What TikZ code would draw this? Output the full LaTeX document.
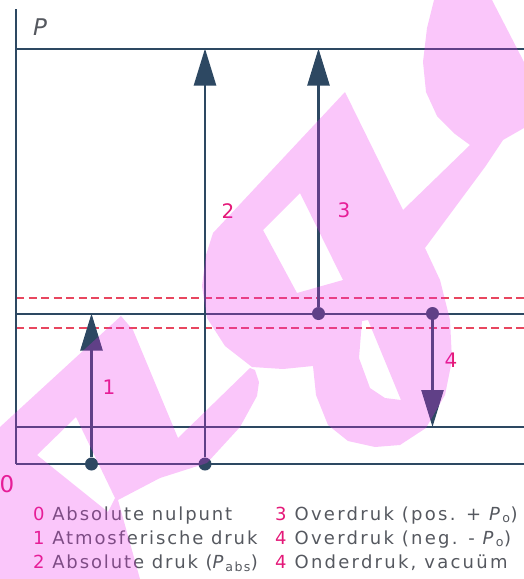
\documentclass[tikz,border=0pt]{standalone}
\usepackage{fontspec}
\setmainfont{DejaVu Sans}
\newfontfamily\legfont[LetterSpace=10.5]{DejaVu Sans}
\newfontfamily\legfontr[LetterSpace=12.5]{DejaVu Sans}
\usetikzlibrary{arrows.meta}
\definecolor{linec}{RGB}{45,72,98}
\definecolor{magc}{RGB}{228,24,120}
\definecolor{dashc}{RGB}{232,70,95}
\definecolor{greyc}{RGB}{85,88,95}
\definecolor{wmc}{RGB}{237,44,237}
\begin{document}
\begin{tikzpicture}[x=1pt,y=-1pt,
  hline/.style={linec, line width=2pt},
  dline/.style={dashc, line width=1.2pt, dash pattern=on 8pt off 4.5pt},
  arr/.style={linec, line width=2.4pt, -{Triangle[length=37pt,width=22pt]}},
  dot/.style={circle, fill=linec, inner sep=0pt, minimum size=13pt},
  num/.style={text=magc, inner sep=0pt, font=\fontsize{20}{24}\selectfont},
  leg/.style={anchor=base west, text=greyc, inner sep=0pt, font=\legfont\fontsize{18}{22}\selectfont},
  legr/.style={anchor=base west, text=greyc, inner sep=0pt, font=\legfontr\fontsize{18}{22}\selectfont},
  wm/.style={fill=wmc, fill opacity=0.27, even odd rule}]
\useasboundingbox (0,0) rectangle (524,579);
% coordinates
\coordinate (axT) at (16,9);
\coordinate (o) at (16,464);
\coordinate (bR) at (524,464);
\coordinate (tL) at (16,48.5);  \coordinate (tR) at (524,48.5);
\coordinate (uL) at (16,298);   \coordinate (uR) at (524,298);
\coordinate (aL) at (16,313.5); \coordinate (aR) at (524,313.5);
\coordinate (lL) at (16,328);   \coordinate (lR) at (524,328);
\coordinate (vL) at (16,427);   \coordinate (vR) at (524,427);
% lines
\draw[dline] (uL) -- (uR);
\draw[dline] (lL) -- (lR);
\draw[hline] (tL) -- (tR);
\draw[hline] (aL) -- (aR);
\draw[hline] (vL) -- (vR);
\draw[hline] (o) -- (bR);
\draw[linec, line width=2.4pt] (axT) -- (o);
% dots
\node[dot] (d1) at (91.5,464) {};
\node[dot] (d2) at (205,464) {};
\node[dot] (d3) at (318.5,313.5) {};
\node[dot] (d4) at (432.5,313.5) {};
\coordinate (t1) at (91.5,313.5);
\coordinate (t2) at (205,48.5);
\coordinate (t3) at (318.5,48.5);
\coordinate (t4) at (432.5,427);
\draw[arr] (d1) -- (t1);
\draw[arr] (d2) -- (t2);
\draw[arr] (d3) -- (t3);
\draw[arr] (d4) -- (t4);
% labels
\node[text=greyc, inner sep=0pt, font=\itshape\fontsize{23}{26}\selectfont] (P) at (40,27) {P};
\node[num, font=\fontsize{23}{26}\selectfont] (n0) at (7,484) {0};
\node[num] (n1) at (109,387) {1};
\node[num] (n2) at (228,211) {2};
\node[num] (n3) at (344,210) {3};
\node[num] (n4) at (451,360) {4};
% legend
\node[leg] (l0) at (33,520) {\textcolor{magc}{0} Absolute nulpunt};
\node[leg] (l1) at (33,544) {\textcolor{magc}{1} Atmosferische druk};
\node[leg] (l2) at (33,568) {\textcolor{magc}{2} Absolute druk (\textit{P}\textsubscript{abs})};
\node[legr] (l3) at (275,520) {\textcolor{magc}{3} Overdruk (pos. + \textit{P}\textsubscript{o})};
\node[legr] (l4) at (275,544) {\textcolor{magc}{4} Overdruk (neg. - \textit{P}\textsubscript{o})};
\node[legr] (l5) at (275,568) {\textcolor{magc}{4} Onderdruk, vacuüm};
% watermark
\fill[wm] (0,427) -- (121,316) -- (133,330) -- (178,438) -- (250,368) -- (255,370) -- (259,382) -- (257,396)
  -- (240,427) -- (207,463) -- (160,478) -- (118,500) -- (140,579) -- (0,579) -- cycle
  (37,455) -- (76,417) -- (115,498) -- (108,512) -- cycle;
\fill[wm] (345,92) -- (403,210) -- (470,145) -- (455,134) -- (437,116) -- (426,92) -- (423,62)
  -- (427,28) -- (434,0) -- (492,0) -- (524,62) -- (524,128) -- (503,140) -- (485,167)
  -- (425,248) -- (440,280) -- (450,320) -- (452,360) -- (445,395) -- (426,428) -- (400,445)
  -- (375,447) -- (348,441) -- (328,425) -- (316,395) -- (313,366) -- (283,369) -- (252,367)
  -- (225,346) -- (207,318) -- (202,286) -- (206,255) -- (213,233) -- cycle
  (263,230) -- (300,193) -- (343,280) -- (297,293) -- cycle
  (362,321) -- (368,320) -- (401,400) -- (385,398) -- (370,388) -- (359,358) -- cycle;
\end{tikzpicture}
\end{document}
